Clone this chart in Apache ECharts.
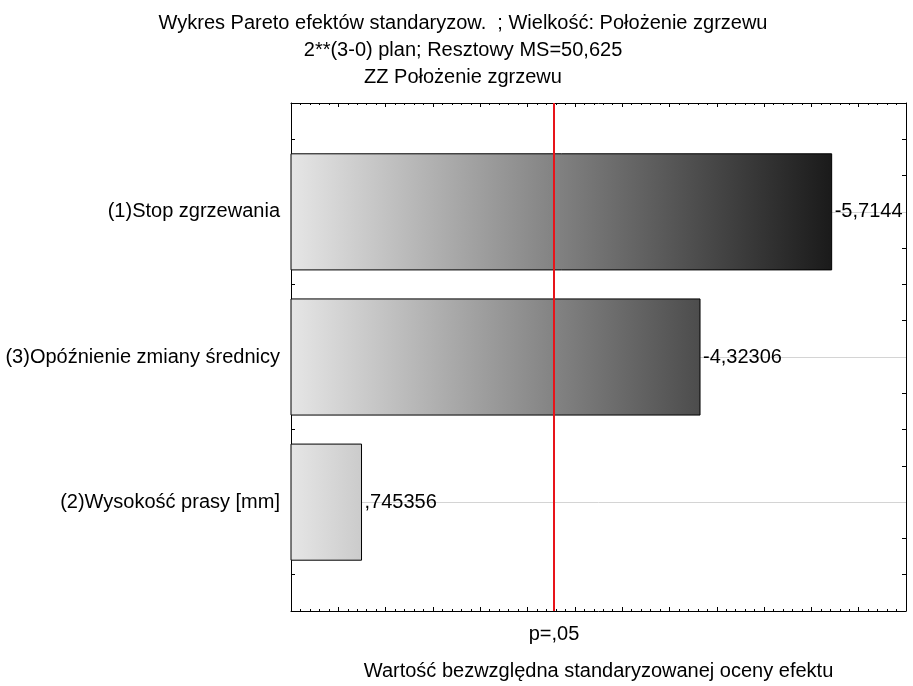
<!DOCTYPE html>
<html>
<head>
<meta charset="utf-8">
<script src="https://cdn.jsdelivr.net/npm/echarts@6/dist/echarts.min.js"></script>
<style>
html,body{margin:0;padding:0;background:#fff;}
#chart{width:913px;height:686px;}
</style>
</head>
<body>
<div id="chart"></div>
<script>
// ---- data ----
const titleLines = ['Wykres Pareto efektów standaryzow.  ; Wielkość: Położenie zgrzewu', '2**(3-0) plan; Resztowy MS=50,625', 'ZZ Położenie zgrzewu'];
const categories = ['(1)Stop zgrzewania', '(3)Opóźnienie zmiany średnicy', '(2)Wysokość prasy [mm]'];
const effects = [-5.7144, -4.32306, 0.745356];
const pCrit = 2.776;
const pLabel = 'p=,05';
const xAxisTitle = 'Wartość bezwzględna standaryzowanej oceny efektu';

const FONT = '"Liberation Sans", Arial, sans-serif';
const FS = 20;
const GRID = { left: 291, right: 7, top: 103, bottom: 73 };
function fmt(v) {
  let s = String(v).replace('.', ',');
  return s.replace(/^(-?)0,/, '$1,');
}
const vmax = Math.max(...effects.map(Math.abs));
const barData = effects.map((e, i) => [Math.abs(e), i, e]);

const chart = echarts.init(document.getElementById('chart'));

const xCommon = {
  type: 'value', min: 0, max: 6.5, interval: 0.5,
  axisLine: { show: true, onZero: false, lineStyle: { color: '#000', width: 1 } },
  axisTick: { show: true, inside: true, length: 4, lineStyle: { color: '#000' } },
  minorTick: { show: true, splitNumber: 5, length: 2, lineStyle: { color: '#000' } },
  axisLabel: { show: false },
  splitLine: { show: false }
};
const yCommon = {
  type: 'value', min: -0.75, max: 2.75, interval: 0.25, inverse: true,
  axisLine: { show: true, onZero: false, lineStyle: { color: '#000', width: 1 } },
  axisTick: { show: true, inside: true, length: 4, lineStyle: { color: '#000' } },
  splitLine: { show: false }
};

chart.setOption({
  animation: false,
  backgroundColor: '#fff',
  title: {
    text: titleLines.join('\n'),
    left: 458, top: 5, textAlign: 'center',
    textStyle: { fontFamily: FONT, fontSize: FS, fontWeight: 'normal', color: '#000', lineHeight: 27 }
  },
  grid: Object.assign({ containLabel: false }, GRID),
  xAxis: [
    Object.assign({}, xCommon, {
      position: 'bottom',
      name: xAxisTitle, nameLocation: 'middle', nameGap: 50,
      nameTextStyle: { fontFamily: FONT, fontSize: FS, color: '#000' }
    }),
    Object.assign({}, xCommon, { position: 'top' })
  ],
  yAxis: [
    Object.assign({}, yCommon, {
      position: 'left',
      axisLabel: {
        show: true, margin: 11, color: '#000', fontFamily: FONT, fontSize: FS,
        formatter: function (v) {
          const r = Math.round(v);
          return (Math.abs(v - r) < 1e-6 && categories[r] !== undefined) ? categories[r] : '';
        }
      }
    }),
    Object.assign({}, yCommon, { position: 'right', axisLabel: { show: false } })
  ],
  series: [
    {
      type: 'line', data: [], z: 1, silent: true,
      markLine: {
        z: 1,
        symbol: 'none', silent: true, animation: false,
        label: { show: false },
        lineStyle: { color: '#d4d4d4', width: 1, type: 'solid' },
        data: categories.map((c, i) => ({ yAxis: i }))
      }
    },
    {
      type: 'custom', z: 3,
      data: barData,
      encode: { x: 0, y: 1 },
      renderItem: function (params, api) {
        const v = api.value(0), idx = api.value(1), eff = api.value(2);
        const p0 = api.coord([0, idx]);
        const p1 = api.coord([v, idx]);
        const h = api.size([0, 0.8])[1];
        const g = Math.round(230 - (v / vmax) * 204);
        return {
          type: 'group',
          children: [
            {
              type: 'rect',
              shape: { x: p0[0], y: p0[1] - h / 2, width: p1[0] - p0[0], height: h },
              style: {
                fill: new echarts.graphic.LinearGradient(0, 0, 1, 0, [
                  { offset: 0, color: 'rgb(230,230,230)' },
                  { offset: 1, color: 'rgb(' + g + ',' + g + ',' + g + ')' }
                ]),
                stroke: '#000', lineWidth: 1
              }
            },
            {
              type: 'text',
              x: p1[0] + 3, y: p1[1],
              style: { text: fmt(eff), fill: '#000', font: FS + 'px ' + FONT, verticalAlign: 'middle', align: 'left' }
            }
          ]
        };
      }
    },
    {
      type: 'line', data: [], z: 5, silent: true,
      markLine: {
        z: 5,
        symbol: 'none', silent: true, animation: false,
        lineStyle: { color: '#e8141a', width: 2, type: 'solid' },
        label: {
          show: true, position: 'end', distance: 13, formatter: pLabel,
          color: '#000', fontFamily: FONT, fontSize: FS
        },
        data: [{ xAxis: pCrit }]
      }
    }
  ]
});
</script>
</body>
</html>
